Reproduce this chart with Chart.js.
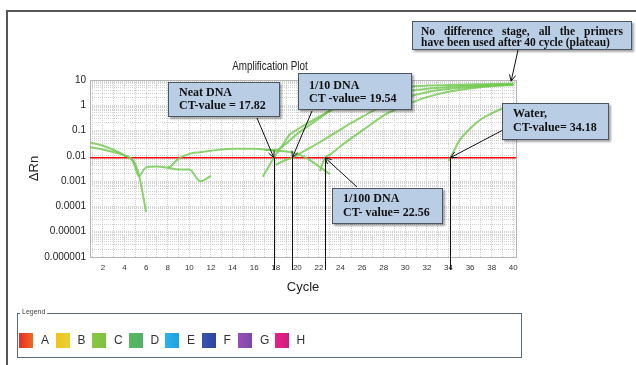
<!DOCTYPE html>
<html>
<head>
<meta charset="utf-8">
<script src="https://cdn.jsdelivr.net/npm/chart.js@4.4.0/dist/chart.umd.min.js"></script>
<style>
  body { margin: 0; background: #fff; }
  #wrap { position: relative; width: 636px; height: 365px; overflow: hidden; }
  #frame { position: absolute; left: 6px; top: 10px; width: 700px; height: 400px; border-left: 2px solid #555; border-top: 2px solid #555; }
  canvas { position: absolute; left: 0; top: 0; }
  .note { position: absolute; box-sizing: border-box; background: #b9cde5; border: 1.5px solid #4d5660;
          box-shadow: 2px 2px 2px rgba(0,0,0,0.35); font: bold 12px "Liberation Serif", serif; color: #111;
          line-height: 13px; padding: 3px 10px; white-space: nowrap; }
  #plateau { font-size: 11.5px; line-height: 10.5px; padding: 4px 8px; }
  #plateau .j { text-align: justify; text-align-last: justify; }
  #legendBox { position: absolute; left: 17px; top: 313px; width: 505px; height: 45px; box-sizing: border-box; border: 1px solid #5b6b7c; }
  #legendTitle { position: absolute; left: 20px; top: 308px; padding: 0 2px; background: #fff; font: 7px "Liberation Sans", sans-serif; color: #444; }
  .item { position: absolute; top: 333px; font: 12px "Liberation Sans", sans-serif; color: #333; line-height: 15px; }
  .item span { display: inline-block; width: 14px; height: 15px; vertical-align: top; margin-right: 8px; }
</style>
</head>
<body>
<div id="wrap">
  <div id="frame"></div>
  <canvas id="canvas" width="636" height="365"></canvas>
  <div class="note" id="plateau" style="left:412px;top:21px;width:220px;height:29px;"><div class="j">No difference stage, all the primers</div><div>have been used after 40 cycle (plateau)</div></div>
  <div class="note" style="left:168px;top:82px;width:112px;height:35px;">Neat DNA<br>CT-value = 17.82</div>
  <div class="note" style="left:298px;top:73px;width:114px;height:37px;padding-top:5px;">1/10 DNA<br>CT -value= 19.54</div>
  <div class="note" style="left:332px;top:188px;width:111px;height:36px;line-height:13.5px;">1/100 DNA<br>CT- value= 22.56</div>
  <div class="note" style="left:502px;top:103px;width:107px;height:37px;line-height:13.5px;">Water,<br>CT-value= 34.18</div>
  <div id="legendBox"></div>
  <div id="legendTitle">Legend</div>
</div>
<script>
// axis ticks
const cycleTicks = [2, 4, 6, 8, 10, 12, 14, 16, 18, 20, 22, 24, 26, 28, 30, 32, 34, 36, 38, 40];
const deltaRnTicks = [0.000001, 0.00001, 0.0001, 0.001, 0.01, 0.1, 1, 10];
const deltaRnLabels = ['0.000001', '0.00001', '0.0001', '0.001', '0.01', '0.1', '1', '10'];

// threshold and CT values
const threshold = 0.0085;
const ctValues = [17.82, 19.54, 22.56, 34.18];

// curves [cycle, deltaRn]
const baseline1 = [[0.8, 0.034], [2, 0.025], [3, 0.017], [4, 0.0105], [4.8, 0.0065], [5.3, 0.002], [6, 0.00006]];
const baseline2 = [[0.8, 0.022], [2, 0.018], [3, 0.014], [4, 0.0105], [4.8, 0.006], [5.3, 0.0016], [6, 0.0035],
  [7, 0.0038], [8, 0.0034], [9, 0.0078], [10, 0.012], [11, 0.014], [12, 0.016], [13, 0.018], [14, 0.019],
  [15, 0.019], [16, 0.019], [17, 0.018], [18, 0.016], [19, 0.015], [20, 0.012], [21, 0.0076], [22, 0.0038], [23, 0.0019]];
const baseline3 = [[8, 0.0034], [9, 0.0029], [10, 0.0029], [11, 0.001], [12, 0.0016]];
const neatDNA = [[16.8, 0.0015], [17.3, 0.0035], [17.82, 0.0085], [18.5, 0.022], [19.3, 0.07], [20, 0.11], [21, 0.2],
  [22, 0.35], [23, 0.6], [24, 1], [25, 1.6], [26, 2.4], [27, 3.3], [28, 4.3], [30, 5.4], [32, 6], [34, 6.3],
  [36, 6.6], [38, 6.9], [40, 7.2]];
const replicate = [[17, 0.017], [18, 0.017], [19, 0.032], [20, 0.075], [21, 0.15], [22, 0.3], [23, 0.6], [24, 0.95],
  [25, 1.35], [26, 1.75], [27, 2.1], [28, 2.5], [30, 3.5], [32, 4.5], [34, 5.3], [36, 5.9], [38, 6.4], [40, 6.8]];
const tenthDNA = [[18, 0.0045], [19, 0.007], [19.54, 0.0085], [20, 0.011], [21, 0.019], [22, 0.033], [23, 0.06],
  [24, 0.11], [25, 0.2], [26, 0.35], [27, 0.6], [28, 0.95], [29, 1.4], [30, 2], [32, 3.3], [34, 4.4], [36, 5.3],
  [38, 6], [40, 6.6]];
const hundredthDNA = [[22.1, 0.0025], [22.56, 0.0085], [23, 0.011], [24, 0.024], [25, 0.05], [26, 0.1], [27, 0.2],
  [28, 0.4], [29, 0.65], [30, 1], [31, 1.5], [32, 2.1], [34, 3.4], [36, 4.6], [38, 5.6], [40, 6.4]];
const water = [[34, 0.0065], [34.18, 0.0085], [35, 0.04], [36, 0.12], [37, 0.28], [38, 0.48], [39, 0.75], [40, 1]];

// legend
const legendLabels = ['A', 'B', 'C', 'D', 'E', 'F', 'G', 'H'];
const legendColors = [['#e62b2b', '#f06a1c'], ['#f0c419', '#e6d23a'], ['#8cc63f', '#7cc242'], ['#5cb85c', '#4fb06a'],
  ['#2ab4e8', '#1fa0df'], ['#3a55b0', '#2a44a0'], ['#9a4fb4', '#7a4aa8'], ['#e8208a', '#d01c7a']];

legendLabels.forEach(function (lab, i) {
  var d = document.createElement('div');
  d.className = 'item';
  d.style.left = (19 + i * 36.5) + 'px';
  d.innerHTML = '<span style="background:linear-gradient(to right,' + legendColors[i][0] + ',' + legendColors[i][1] + ')"></span>' + lab;
  document.getElementById('wrap').appendChild(d);
});

const green = 'rgba(112,200,76,0.8)';
function curve(points) {
  return {
    data: points.map(p => ({ x: p[0], y: p[1] })),
    borderColor: green, borderWidth: 2, pointRadius: 0,
    cubicInterpolationMode: 'monotone', fill: false
  };
}

// annotation arrows: tail in page pixels, head on the chart
const arrows = [
  { from: [257, 118], ct: 0 },
  { from: [312, 111], ct: 1 },
  { from: [357, 187], ct: 2 },
  { from: [503, 130], ct: 3 },
  { from: [518, 50], to: [39.8, 9] }
];

function arrow(ctx, x1, y1, x2, y2) {
  const a = Math.atan2(y2 - y1, x2 - x1), h = 7;
  ctx.beginPath();
  ctx.moveTo(x1, y1); ctx.lineTo(x2, y2);
  ctx.moveTo(x2 - h * Math.cos(a - 0.45), y2 - h * Math.sin(a - 0.45));
  ctx.lineTo(x2, y2);
  ctx.lineTo(x2 - h * Math.cos(a + 0.45), y2 - h * Math.sin(a + 0.45));
  ctx.stroke();
}

const extras = {
  id: 'extras',
  beforeDatasetsDraw(chart) {
    const { ctx, chartArea: a } = chart;
    ctx.save();
    ctx.strokeStyle = '#b5b5b5';
    ctx.lineWidth = 1;
    ctx.strokeRect(a.left + 0.5, a.top + 0.5, a.right - a.left, a.bottom - a.top);
    ctx.restore();
  },
  afterDraw(chart) {
    const { ctx, chartArea: a, scales: { x, y } } = chart;
    ctx.save();
    ctx.fillStyle = '#222';
    ctx.font = '12px "Liberation Sans", sans-serif';
    ctx.textAlign = 'center';
    ctx.textBaseline = 'middle';
    ctx.translate(270, 67);
    ctx.scale(0.82, 1);
    ctx.fillText('Amplification Plot', 0, 0);
    ctx.restore();

    ctx.save();
    ctx.strokeStyle = '#111';
    ctx.lineWidth = 1;
    const ty = y.getPixelForValue(threshold);
    ctValues.forEach(function (c) {
      const px = Math.round(x.getPixelForValue(c)) + 0.5;
      ctx.beginPath();
      ctx.moveTo(px, ty);
      ctx.lineTo(px, a.bottom + 13);
      ctx.stroke();
    });
    arrows.forEach(function (ar) {
      let tx, tyy;
      if (ar.to) { tx = x.getPixelForValue(ar.to[0]); tyy = y.getPixelForValue(ar.to[1]); }
      else { tx = x.getPixelForValue(ctValues[ar.ct]); tyy = ty; }
      arrow(ctx, ar.from[0], ar.from[1], tx, tyy);
    });
    ctx.restore();
  }
};

const allCycles = [];
for (let c = 1; c <= 40; c++) allCycles.push(c);

new Chart(document.getElementById('canvas').getContext('2d'), {
  type: 'line',
  data: {
    datasets: [
      curve(baseline1), curve(baseline2), curve(baseline3),
      curve(neatDNA), curve(replicate), curve(tenthDNA), curve(hundredthDNA), curve(water),
      { data: [{ x: 0.8, y: threshold }, { x: 40.25, y: threshold }], borderColor: '#ff0000', borderWidth: 1.5, pointRadius: 0 }
    ]
  },
  options: {
    responsive: false,
    animation: false,
    devicePixelRatio: 1,
    layout: { padding: { left: 0, top: 80, right: 120, bottom: 70 } },
    plugins: { legend: { display: false }, tooltip: { enabled: false } },
    scales: {
      x: {
        type: 'linear', min: 0.8, max: 40.25,
        afterBuildTicks: s => { s.ticks = allCycles.map(v => ({ value: v })); },
        afterFit: s => { s.height = 38; },
        ticks: {
          autoSkip: false, maxRotation: 0, padding: 6, color: '#333',
          font: { family: 'Liberation Sans', size: 8 },
          callback: v => cycleTicks.includes(v) ? String(v) : ''
        },
        grid: { color: '#d2d2d2', drawTicks: false },
        border: { display: false, dash: [1, 1] },
        title: { display: true, text: 'Cycle', color: '#222', font: { family: 'Liberation Sans', size: 13 }, padding: { top: 0, bottom: 0 } }
      },
      y: {
        type: 'logarithmic', min: 0.000001, max: 10,
        afterBuildTicks: s => {
          const t = [];
          deltaRnTicks.forEach(function (d, i) {
            t.push({ value: d });
            if (i < deltaRnTicks.length - 1) for (let m = 2; m <= 9; m++) t.push({ value: m * d });
          });
          s.ticks = t;
        },
        afterFit: s => { s.width = 90; },
        ticks: {
          autoSkip: false, padding: 4, color: '#222',
          font: { family: 'Liberation Sans', size: 10 },
          callback: v => { const i = deltaRnTicks.indexOf(v); return i >= 0 ? deltaRnLabels[i] : ''; }
        },
        grid: { color: '#d2d2d2', drawTicks: false },
        border: { display: false, dash: [1, 1] },
        title: { display: true, text: 'ΔRn', color: '#222', font: { family: 'Liberation Sans', size: 13 }, padding: { top: 27, bottom: 0 } }
      }
    }
  },
  plugins: [extras]
});
</script>
</body>
</html>
